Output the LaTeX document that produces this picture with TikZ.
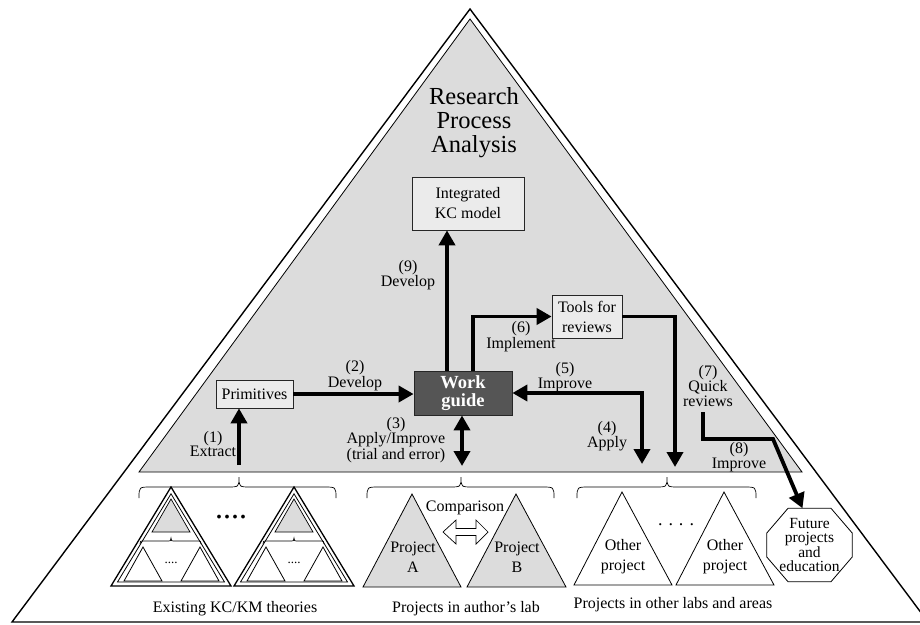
\documentclass[tikz,border=0pt]{standalone}
\usepackage{fontspec}
\setmainfont{Liberation Serif}
\usetikzlibrary{arrows.meta,calc}

\definecolor{regiongray}{HTML}{DCDCDC}
\definecolor{boxgray}{HTML}{EBEBEB}
\definecolor{guidegray}{HTML}{555555}

\newcommand\lblfont{\fontsize{16}{13.5}\selectfont}
\newcommand\boxfont{\fontsize{16}{20}\selectfont}

% curly brace opening upwards: x-left, x-right, x-tip, y-tip, y-straight, y-ends, curl size
\newcommand\curlybrace[7]{%
  \draw[line width=0.7pt] (#1,#6) .. controls (#1,#5) .. (#1+#7,#5) -- (#3-#7,#5)
    .. controls (#3,#5) .. (#3,#4) .. controls (#3,#5) .. (#3+#7,#5)
    -- (#2-#7,#5) .. controls (#2,#5) .. (#2,#6);}

\tikzset{
  box/.style={draw=black!85, fill=boxgray, line width=0.7pt, inner sep=0pt,
    align=center, font=\boxfont},
  lbl/.style={inner sep=0pt, align=center, font=\lblfont},
  tip/.style={-{Triangle[length=15pt,width=16pt]}},
  bigarrow/.style={line width=3.8pt, tip},
  dblarrow/.style={line width=3.8pt,
    {Triangle[length=15pt,width=16pt]}-{Triangle[length=15pt,width=16pt]}},
  theorytri/.pic={
    \draw[line width=1.3pt, fill=white] (0,0) -- (-60,99) -- (60,99) -- cycle;
    \draw[line width=0.8pt] (0,6.8) -- (-53.5,95) -- (53.5,95) -- cycle;
    \draw[line width=0.7pt, fill=regiongray] (0,12) -- (-19,45) -- (19,45) -- cycle;
    \curlybrace{-31}{30}{0}{51}{54}{57}{5}
    \draw[line width=0.8pt] (-28,60) -- (-47,94) -- (-9,94) -- cycle;
    \draw[line width=0.8pt] (29,60) -- (10,94) -- (48,94) -- cycle;
    \node[inner sep=0pt, font=\fontsize{13}{13}\selectfont] (-dots) at (0,76) {....};
  }
}

\begin{document}
\begin{tikzpicture}[x=1pt, y=-1pt]
  \useasboundingbox (0,0) rectangle (920,624);
  \clip (0,0) rectangle (920,624);
  \fill[white] (0,0) rectangle (920,624);

  % outer pyramid and the shaded research-analysis region
  \draw[line width=1.4pt] (470,9) -- (12,622) -- (928,622) -- cycle;
  \draw[line width=0.8pt, fill=regiongray] (470,19) -- (139,472) -- (802,472) -- cycle;

  \node[inner sep=0pt, align=center, font=\fontsize{24.5}{24}\selectfont] (title)
    at (474,123) {Research\\Process\\Analysis};

  % boxes
  \node[box, minimum width=112pt, minimum height=53pt] (ikc) at (468,203.5)
    {Integrated\\KC model};
  \node[box, minimum width=77pt, minimum height=28pt] (prim) at (254.5,394) {Primitives};
  \node[draw=black!85, fill=guidegray, line width=0.8pt, inner sep=0pt, align=center,
    text=white, font=\fontsize{18.5}{18}\selectfont\bfseries,
    minimum width=98pt, minimum height=44pt] (wg) at (463,393) {Work\\guide};
  \node[box, minimum width=70pt, minimum height=43pt] (tools) at (587,316.5)
    {Tools for\\reviews};

  % free ends of connectors
  \coordinate (c1) at (239,465);
  \coordinate (c3) at (462,466);
  \coordinate (c4) at (642,464);
  \coordinate (ct) at (675,467);
  \coordinate (c7) at (703,412);
  \coordinate (c8) at (773,439);

  % connectors
  \draw[bigarrow] (c1) -- (c1 |- prim.south);
  \draw[bigarrow] (prim.east) -- (prim.east -| wg.west);
  \draw[bigarrow] ([xshift=-16pt]wg.north) -- ([xshift=-16pt]wg.north |- ikc.south);
  \draw[bigarrow] ([xshift=10pt]wg.north) |- (tools.west);
  \draw[bigarrow] (tools.east) -| (ct);
  \draw[dblarrow] (wg.east) -| (c4);
  \draw[dblarrow] (wg.south -| c3) -- (c3);

  % connector labels
  \node[lbl] (l1) at (213,444) {(1)\\Extract};
  \node[lbl] (l2) at (355,375.5) {(2)\\Develop};
  \node[lbl, font=\fontsize{16}{13}\selectfont] (l3) at (396,440)
    {(3)\\Apply/Improve\\(trial and error)};
  \node[lbl] (l4) at (607,436) {(4)\\Apply};
  \node[lbl] (l5) at (565,377) {(5)\\Improve};
  \node[lbl] (l6) at (521,336.5) {(6)\\Implement};
  \node[lbl, font=\fontsize{16}{14.5}\selectfont] (l7) at (708,386) {(7)\\Quick\\reviews};
  \node[lbl] (l8) at (739,457.5) {(8)\\Improve};
  \node[lbl] (l9) at (408,275) {(9)\\Develop};

  % braces under the shaded region
  \curlybrace{139}{336}{239}{477}{487}{498}{12}
  \curlybrace{367}{554}{461}{477}{487}{498}{12}
  \curlybrace{577}{756}{667}{477}{487}{498}{12}

  % existing theories
  \pic (t1) at (171,487) {theorytri};
  \pic (t2) at (294,487) {theorytri};
  \node[inner sep=0pt, font=\fontsize{32}{32}\selectfont] (tdots) at (231,517) {....};

  % projects in the author's lab
  \draw[line width=0.8pt, fill=regiongray] (412,494) -- (363,587) -- (461,587) -- cycle;
  \draw[line width=0.8pt, fill=regiongray] (516,494) -- (467,587) -- (566,587) -- cycle;
  \node[lbl, font=\boxfont] (pa) at (413,557) {Project\\A};
  \node[lbl, font=\boxfont] (pb) at (517,557) {Project\\B};
  \node[lbl] (cmp) at (465,508) {Comparison};
  \draw[line width=0.7pt, fill=white] (443,532) -- (456,520) -- (456,528.5) -- (476,528.5)
    -- (476,520) -- (488,532) -- (476,544) -- (476,535.5) -- (456,535.5) -- (456,544) -- cycle;

  % projects elsewhere
  \draw[line width=0.8pt, fill=white] (622,492) -- (574,585) -- (672,585) -- cycle;
  \draw[line width=0.8pt, fill=white] (724,492) -- (676,585) -- (774,585) -- cycle;
  \node[lbl, font=\boxfont] (o1) at (623,557) {Other\\project};
  \node[lbl, font=\boxfont] (o2) at (725,557) {Other\\project};
  \node[inner sep=0pt, font=\fontsize{18}{18}\selectfont] (odots) at (676,525) {. . . .};

  % future work
  \node[lbl, font=\fontsize{15.5}{14}\selectfont, minimum width=85pt, minimum height=73pt]
    (fut) at (809.5,545) {Future\\projects\\and\\education};
  \draw[line width=0.8pt] ([xshift=-21.5pt]fut.north) -- ([xshift=21.5pt]fut.north)
    -- ([yshift=12pt]fut.east) -- ([yshift=-12pt]fut.east)
    -- ([xshift=21.5pt]fut.south) -- ([xshift=-21.5pt]fut.south)
    -- ([yshift=-12pt]fut.west) -- ([yshift=12pt]fut.west) -- cycle;
  \draw[bigarrow] (c7) |- (c8) -- ([xshift=-7pt]fut.north);

  % group captions
  \node[lbl] (cap1) at (235,609) {Existing KC/KM theories};
  \node[lbl] (cap2) at (466,609) {Projects in author’s lab};
  \node[lbl] (cap3) at (673,605) {Projects in other labs and areas};
\end{tikzpicture}
\end{document}
